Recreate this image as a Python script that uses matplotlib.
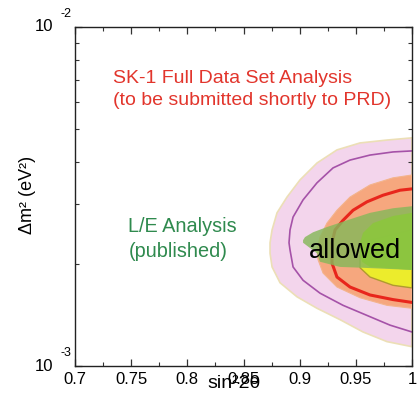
import numpy as np
import matplotlib
matplotlib.use("Agg")
import matplotlib.pyplot as plt
from matplotlib.ticker import MultipleLocator, LogLocator, NullFormatter

plt.rcParams['font.family'] = ['Liberation Sans', 'DejaVu Sans']

# axis ranges
xlim = (0.7, 1.0)
ylim = (1e-3, 1e-2)
xticks = [0.7, 0.75, 0.8, 0.85, 0.9, 0.95, 1.0]
xticklabels = ['0.7', '0.75', '0.8', '0.85', '0.9', '0.95', '1']
ydecades = [-3, -2]

# SK-1 full data set, outer allowed region (pink)
sk_outer_x = [1.0, 0.9777, 0.9537, 0.9332, 0.9154, 0.9003, 0.8887, 0.8798, 0.8754, 0.8736,
              0.8736, 0.8754, 0.8825, 0.8976, 0.9154, 0.9359, 0.9564, 0.9777, 1.0]
sk_outer_y = [4.71e-3, 4.64e-3, 4.55e-3, 4.34e-3, 3.97e-3, 3.54e-3, 3.15e-3, 2.83e-3, 2.52e-3, 2.31e-3,
              2.15e-3, 1.96e-3, 1.76e-3, 1.60e-3, 1.48e-3, 1.37e-3, 1.26e-3, 1.18e-3, 1.14e-3]

# purple contour line
sk_line1_x = [1.0, 0.9831, 0.9626, 0.9448, 0.9297, 0.9154, 0.9030, 0.8941, 0.8914, 0.8905,
              0.8914, 0.8941, 0.9030, 0.9181, 0.9386, 0.9599, 0.9804, 1.0]
sk_line1_y = [4.31e-3, 4.28e-3, 4.19e-3, 4.05e-3, 3.84e-3, 3.47e-3, 3.09e-3, 2.75e-3, 2.52e-3, 2.31e-3,
              2.20e-3, 1.96e-3, 1.79e-3, 1.64e-3, 1.51e-3, 1.41e-3, 1.32e-3, 1.26e-3]

# orange region
sk_mid_x = [1.0, 0.9831, 0.9626, 0.9448, 0.9332, 0.9243, 0.9181, 0.9154, 0.9163, 0.9208,
            0.9332, 0.9537, 0.9777, 1.0]
sk_mid_y = [3.66e-3, 3.59e-3, 3.42e-3, 3.15e-3, 2.88e-3, 2.64e-3, 2.40e-3, 2.20e-3, 2.06e-3, 1.88e-3,
            1.71e-3, 1.59e-3, 1.51e-3, 1.48e-3]

# red contour line
sk_line2_x = [1.0, 0.9893, 0.9742, 0.9599, 0.9475, 0.9386, 0.9315, 0.9288, 0.9288, 0.9288,
              0.9332, 0.9448, 0.9626, 0.9831, 1.0]
sk_line2_y = [3.33e-3, 3.30e-3, 3.19e-3, 3.05e-3, 2.88e-3, 2.69e-3, 2.52e-3, 2.31e-3, 2.15e-3, 2.01e-3,
              1.83e-3, 1.71e-3, 1.62e-3, 1.57e-3, 1.54e-3]

# yellow inner region
sk_inner_x = [1.0, 0.9626, 0.9537, 0.9537, 0.9626, 0.9831, 1.0]
sk_inner_y = [2.52e-3, 2.35e-3, 2.12e-3, 1.95e-3, 1.83e-3, 1.73e-3, 1.70e-3]

# L/E analysis regions (green)
le_outer_x = [1.0, 0.9831, 0.9626, 0.9421, 0.9243, 0.9119, 0.9047, 0.9030, 0.9030, 0.9154,
              0.9181, 0.9359, 0.9537, 1.0]
le_outer_y = [2.96e-3, 2.92e-3, 2.83e-3, 2.69e-3, 2.57e-3, 2.48e-3, 2.40e-3, 2.35e-3, 2.31e-3, 2.15e-3,
              2.03e-3, 1.96e-3, 1.95e-3, 1.92e-3]
le_inner_x = [1.0, 0.9831, 0.9653, 0.9564, 0.9537, 0.9537, 0.9555, 0.9626, 1.0]
le_inner_y = [2.83e-3, 2.77e-3, 2.64e-3, 2.47e-3, 2.31e-3, 2.15e-3, 2.03e-3, 1.96e-3, 1.92e-3]

fig = plt.figure(figsize=(4.17, 3.93), dpi=100)
ax = fig.add_axes([0.180, 0.0687, 0.808, 0.8626])
ax.set_yscale('log')
ax.set_xlim(*xlim)
ax.set_ylim(*ylim)

ax.fill(sk_outer_x, sk_outer_y, facecolor='#f3d5ec', edgecolor='#ecdfb6', lw=1.2,
        joinstyle='round', zorder=1)
ax.plot(sk_line1_x, sk_line1_y, color='#a552a8', lw=1.2, solid_joinstyle='round', zorder=2)
ax.fill(sk_mid_x, sk_mid_y, facecolor='#f6a77e', edgecolor='#f3b48c', lw=0.8,
        joinstyle='round', zorder=3)
ax.plot(sk_line2_x, sk_line2_y, color='#e8261c', lw=2.2, solid_joinstyle='round',
        solid_capstyle='round', zorder=4)
ax.fill(sk_inner_x, sk_inner_y, facecolor='#ecec2c', edgecolor='#b09a30', lw=1.0,
        joinstyle='round', zorder=5)
ax.fill(le_outer_x, le_outer_y, facecolor='#86b85a', edgecolor='none', alpha=0.82, zorder=6)
ax.fill(le_inner_x, le_inner_y, facecolor='#8cc63e', edgecolor='none', alpha=0.92, zorder=7)

ax.text(0.949, 2.08e-3, 'allowed', fontsize=19.5, ha='center', va='baseline', color='black', zorder=8)

red_lines = ['SK-1 Full Data Set Analysis', '(to be submitted shortly to PRD)']
for i, s in enumerate(red_lines):
    ax.text(0.113, 0.835 - i * 0.065, s, transform=ax.transAxes, fontsize=14,
            color='#e2352c', ha='left', va='baseline')
green_lines = ['L/E Analysis', '(published)']
for i, s in enumerate(green_lines):
    ax.text(0.158, 0.395 - i * 0.074, s, transform=ax.transAxes, fontsize=14.3,
            color='#2f8a4e', ha='left', va='baseline')

# ticks
ax.set_xticks(xticks)
ax.set_xticklabels(xticklabels)
ax.xaxis.set_minor_locator(MultipleLocator(0.025))
ax.yaxis.set_major_locator(LogLocator(base=10))
ax.yaxis.set_minor_locator(LogLocator(base=10, subs=np.arange(2, 10)))
ax.yaxis.set_major_formatter(NullFormatter())
ax.yaxis.set_minor_formatter(NullFormatter())
ax.tick_params(which='both', direction='in', top=True, right=True, colors='#333333',
               labelcolor='black')
ax.tick_params(which='major', length=5, width=0.9, labelsize=12, pad=4)
ax.tick_params(which='minor', length=3, width=0.8)
for sp in ax.spines.values():
    sp.set_linewidth(1.0)
    sp.set_color('#222222')

# decade labels drawn as base and raised exponent
for e in ydecades:
    ax.annotate('10', xy=(0, 10.0 ** e), xycoords=('axes fraction', 'data'),
                xytext=(-22.3, 0), textcoords='offset points', fontsize=12,
                ha='center', va='center')
    ax.annotate(str(e), xy=(0, 10.0 ** e), xycoords=('axes fraction', 'data'),
                xytext=(-6.5, 9.7), textcoords='offset points', fontsize=9,
                ha='center', va='center')

ax.set_xlabel('sin²2θ', fontsize=14)
ax.xaxis.set_label_coords(0.472, -0.053)
ax.xaxis.label.set_va('center')
ax.set_ylabel('Δm² (eV²)', fontsize=13)
ax.yaxis.set_label_coords(-0.142, 0.504)
ax.yaxis.label.set_va('center')

fig.savefig('out.png', dpi=100)
